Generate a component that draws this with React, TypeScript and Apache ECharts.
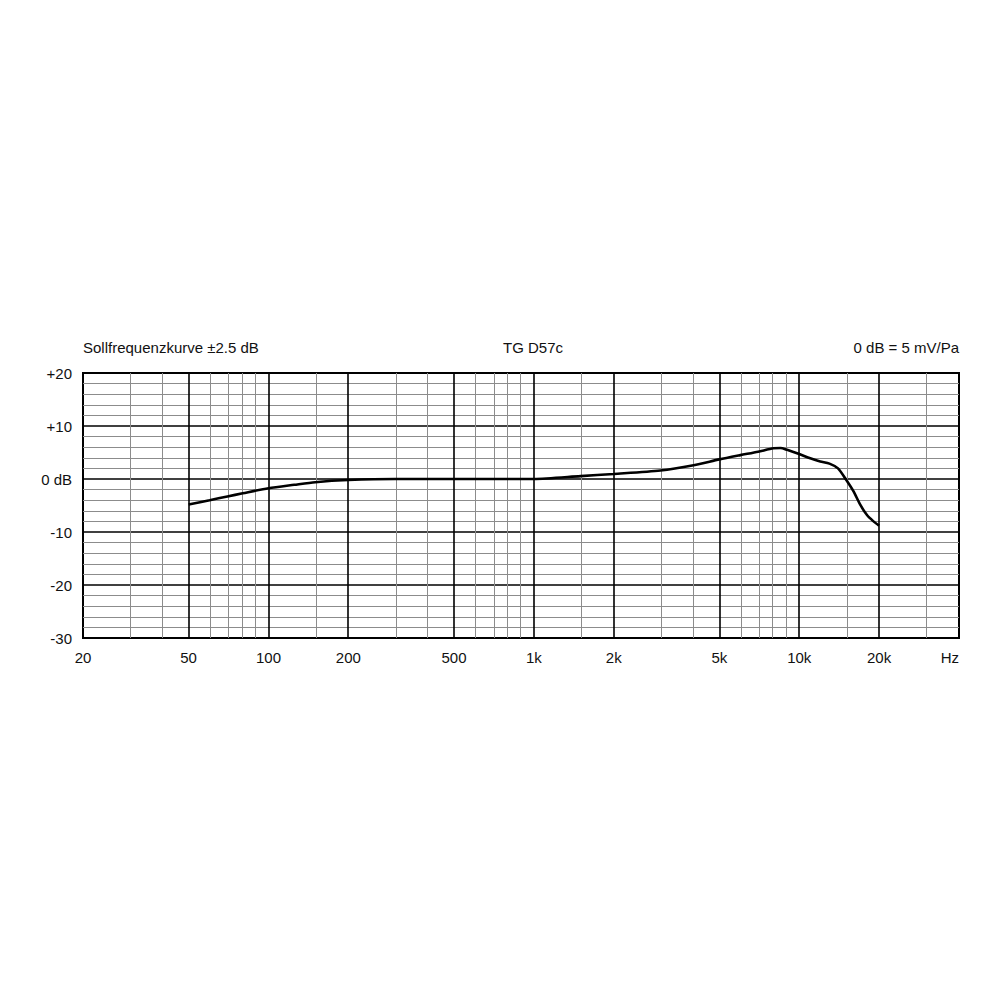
import { useEffect, useRef } from "react";
import * as echarts from "echarts";

// frequency response
const freqs = [
    50, 60, 70, 80, 100, 125, 150, 200, 300, 500, 1000, 1500, 2000, 3000, 4000,
    5000, 6000, 7000, 8000, 8500, 9000, 10000, 11000, 12000, 13000, 14000,
    15000, 16000, 17000, 18000, 19000, 20000,
];
const levels = [
    -4.8, -4.0, -3.3, -2.7, -1.75, -1.1, -0.6, -0.2, 0, 0, 0, 0.55, 0.95, 1.6,
    2.6, 3.7, 4.5, 5.15, 5.8, 5.85, 5.5, 4.7, 3.9, 3.3, 2.9, 2.0, -0.1, -2.3,
    -4.9, -6.8, -7.95, -8.8,
];

const tickFreqs = [20, 50, 100, 200, 500, 1000, 2000, 5000, 10000, 20000];
const tickLabels = ["20", "50", "100", "200", "500", "1k", "2k", "5k", "10k", "20k"];
const minorFreqs = [
    30, 40, 60, 70, 80, 90, 150, 300, 400, 600, 700, 800, 900, 1500, 3000, 4000,
    6000, 7000, 8000, 9000, 15000, 30000,
];

const FONT = "'Liberation Sans', Arial, sans-serif";

const titleStyle = { fontSize: 15, fontWeight: "normal", color: "#111", fontFamily: FONT };

const App = () => {
    const chartRef = useRef<HTMLDivElement>(null);

    useEffect(() => {
        document.body.style.margin = "0";
        if (!chartRef.current) return;

        const chart = echarts.init(chartRef.current, null, { renderer: "svg" });

        const lineData = freqs.map((f, i) => [Math.log10(f), levels[i]]);

        const vLines = [
            ...minorFreqs.map((f) => ({
                xAxis: Math.log10(f),
                lineStyle: { color: "#8c8c8c", width: 1, type: "solid" },
            })),
            ...tickFreqs.slice(1).map((f) => ({
                xAxis: Math.log10(f),
                lineStyle: { color: "#000", width: 1.6, type: "solid" },
            })),
        ];

        chart.setOption({
            animation: false,
            textStyle: { fontFamily: FONT },
            title: [
                { text: "Sollfrequenzkurve ±2.5 dB", left: 83, top: 340, padding: 0, textStyle: titleStyle },
                { text: "TG D57c", left: 503, top: 340, padding: 0, textStyle: titleStyle },
                { text: "0 dB = 5 mV/Pa", right: 41, top: 340, padding: 0, textStyle: titleStyle },
            ],
            graphic: [
                {
                    type: "text",
                    x: 959,
                    y: 657,
                    style: {
                        text: "Hz",
                        fill: "#111",
                        font: `15px ${FONT}`,
                        align: "right",
                        verticalAlign: "middle",
                    },
                },
            ],
            grid: {
                left: 83,
                right: 41,
                top: 373,
                bottom: 362,
                show: true,
                borderColor: "#000",
                borderWidth: 2,
                backgroundColor: "#fff",
            },
            xAxis: {
                type: "value",
                min: Math.log10(20),
                max: Math.log10(40000),
                axisLine: { show: false },
                axisTick: { show: false },
                splitLine: { show: false },
                axisLabel: {
                    customValues: tickFreqs.map((f) => Math.log10(f)),
                    margin: 12,
                    fontSize: 15,
                    color: "#111",
                    fontFamily: FONT,
                    formatter: (v: number) => {
                        const i = tickFreqs.findIndex((f) => Math.abs(Math.log10(f) - v) < 1e-6);
                        return i >= 0 ? tickLabels[i] : "";
                    },
                },
            },
            yAxis: {
                type: "value",
                min: -30,
                max: 20,
                interval: 10,
                axisLine: { show: false },
                axisTick: { show: false },
                axisLabel: {
                    margin: 11,
                    fontSize: 15,
                    color: "#111",
                    fontFamily: FONT,
                    formatter: (v: number) => (v === 0 ? "0 dB" : v > 0 ? `+${v}` : `${v}`),
                },
                splitLine: { show: true, lineStyle: { color: "#000", width: 1.6 } },
                minorTick: { show: false, splitNumber: 5 },
                minorSplitLine: { show: true, lineStyle: { color: "#8c8c8c", width: 1 } },
            },
            series: [
                {
                    type: "line",
                    data: [],
                    silent: true,
                    z: 1,
                    markLine: {
                        silent: true,
                        symbol: ["none", "none"],
                        label: { show: false },
                        lineStyle: { type: "solid" },
                        data: vLines,
                    },
                },
                {
                    name: "TG D57c",
                    type: "line",
                    data: lineData,
                    smooth: 0.25,
                    showSymbol: false,
                    z: 5,
                    lineStyle: { color: "#000", width: 2.6 },
                },
            ],
        });

        return () => {
            chart.dispose();
        };
    }, []);

    return <div ref={chartRef} style={{ width: "1000px", height: "1000px" }} />;
};

export default App;
